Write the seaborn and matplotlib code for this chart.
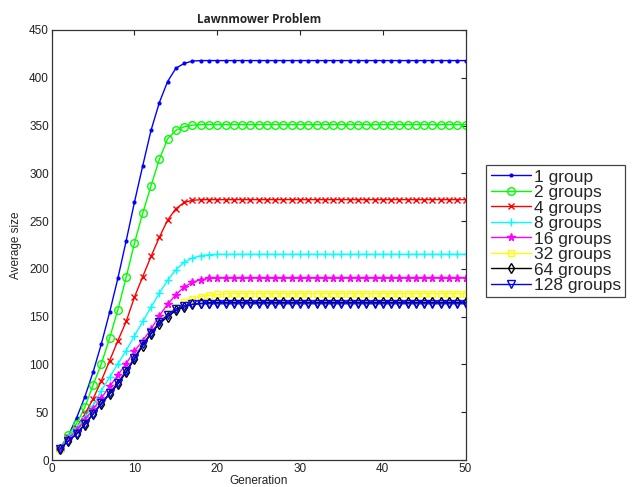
import matplotlib
matplotlib.use("Agg")
import matplotlib.pyplot as plt
import seaborn as sns
import pandas as pd

generations = list(range(1, 51))

labels = ["1 group", "2 groups", "4 groups", "8 groups",
          "16 groups", "32 groups", "64 groups", "128 groups"]

g1 = [12, 25.5, 44, 66, 92, 121.6, 154.7, 190.4, 229.5, 270,
      308, 345, 374, 396, 410, 415, 417.5, 418, 418, 418,
      418, 418, 418, 418, 418, 418, 418, 418, 418, 418,
      418, 418, 418, 418, 418, 418, 418, 418, 418, 418,
      418, 418, 418, 418, 418, 418, 418, 418, 418, 418]
g2 = [12, 26.5, 38, 55, 78.5, 100.6, 127.7, 157.5, 191.4, 227,
      258.5, 287, 314.6, 336, 345, 348.7, 350.5, 351, 351, 351,
      351, 351, 351, 351, 351, 351, 351, 351, 351, 351,
      351, 351, 351, 351, 351, 351, 351, 351, 351, 351,
      351, 351, 351, 351, 351, 351, 351, 351, 351, 351]
g4 = [12, 24, 34, 48, 64, 83, 104, 125, 145, 170.5,
      192, 213, 233, 251, 263, 269.5, 271.8, 272.4, 272.5, 272.5,
      272.5, 272.5, 272.5, 272.5, 272.5, 272.5, 272.5, 272.5, 272.5, 272.5,
      272.5, 272.5, 272.5, 272.5, 272.5, 272.5, 272.5, 272.5, 272.5, 272.5,
      272.5, 272.5, 272.5, 272.5, 272.5, 272.5, 272.5, 272.5, 272.5, 272.5]
g8 = [12, 24, 34, 44.7, 57, 72.6, 86.6, 100.6, 114.6, 130,
      145, 160, 174.5, 188, 199, 207, 211.5, 213.8, 214.8, 215.2,
      215.2, 215.2, 215.2, 215.2, 215.2, 215.2, 215.2, 215.2, 215.2, 215.2,
      215.2, 215.2, 215.2, 215.2, 215.2, 215.2, 215.2, 215.2, 215.2, 215.2,
      215.2, 215.2, 215.2, 215.2, 215.2, 215.2, 215.2, 215.2, 215.2, 215.2]
g16 = [12, 22, 31, 42, 53, 65, 77, 89, 101, 114,
       125, 137, 151, 163, 173, 181, 186, 188.8, 190, 190.4,
       190.5, 190.5, 190.5, 190.5, 190.5, 190.5, 190.5, 190.5, 190.5, 190.5,
       190.5, 190.5, 190.5, 190.5, 190.5, 190.5, 190.5, 190.5, 190.5, 190.5,
       190.5, 190.5, 190.5, 190.5, 190.5, 190.5, 190.5, 190.5, 190.5, 190.5]
g32 = [12, 20.5, 28, 38, 49, 60, 71, 82, 94, 108,
       122, 134, 145, 154, 160, 165, 168.5, 171, 172.5, 173.3,
       173.8, 174, 174, 174, 174, 174, 174, 174, 174, 174,
       174, 174, 174, 174, 174, 174, 174, 174, 174, 174,
       174, 174, 174, 174, 174, 174, 174, 174, 174, 174]
g64 = [11.5, 20, 27, 37, 48, 58.7, 69, 79.6, 91.8, 105.8,
       119.8, 132, 142.5, 150, 156.5, 160, 162.8, 164, 164.6, 165,
       165, 165, 165, 165, 165, 165, 165, 165, 165, 165,
       165, 165, 165, 165, 165, 165, 165, 165, 165, 165,
       165, 165, 165, 165, 165, 165, 165, 165, 165, 165]
g128 = [11.5, 20, 27.5, 37.5, 48.5, 59.5, 70, 81, 93, 107,
        121, 133, 144, 152, 158, 161.5, 163, 163.5, 163.5, 163.5,
        163.5, 163.5, 163.5, 163.5, 163.5, 163.5, 163.5, 163.5, 163.5, 163.5,
        163.5, 163.5, 163.5, 163.5, 163.5, 163.5, 163.5, 163.5, 163.5, 163.5,
        163.5, 163.5, 163.5, 163.5, 163.5, 163.5, 163.5, 163.5, 163.5, 163.5]

series = [g1, g2, g4, g8, g16, g32, g64, g128]
colors = ["#0000ff", "#00ff00", "#ff0000", "#00ffff",
          "#ff00ff", "#ffff00", "#000000", "#0000ff"]
markers = [".", "o", "x", "+", "*", "s", "d", "v"]
msizes = [4, 5.5, 4.5, 6, 5.5, 5, 5.5, 5.5]
filled = [True, False, True, True, True, False, False, False]

sns.set_theme(style="white")
plt.rcParams["font.family"] = ["Liberation Sans", "DejaVu Sans"]

fig = plt.figure(figsize=(6.36, 4.87), dpi=100)
ax = fig.add_axes([0.0813, 0.0554, 0.6507, 0.8830])

for vals, lab, c, m, ms, f in zip(series, labels, colors, markers, msizes, filled):
    df = pd.DataFrame({"Generation": generations, "Average size": vals})
    sns.lineplot(data=df, x="Generation", y="Average size", ax=ax,
                 color=c, marker=m, markersize=ms, linewidth=1.0,
                 mec=c, mew=1.0)
    line = ax.get_lines()[-1]
    line.set_markerfacecolor(c if f else "none")
    line.set_markeredgecolor(c)
    line.set_label(lab)

ax.set_xlim(0, 50)
ax.set_ylim(0, 450)
ax.set_xticks(range(0, 51, 10))
ax.set_yticks(range(0, 451, 50))
ax.tick_params(direction="in", top=True, right=True, length=3.5, width=0.8,
               labelsize=8.5, colors="#222222", pad=2)
for s in ax.spines.values():
    s.set_color("#333333")
    s.set_linewidth(0.9)

ax.set_xlabel("Generation", fontsize=8.5, labelpad=0, color="#222222")
ax.set_ylabel("Average size", fontsize=8.5, labelpad=5, color="#222222")
ax.set_title("Lawnmower Problem", fontsize=8.5, fontweight="bold",
             family=["Open Sans", "DejaVu Sans"], pad=5)

leg = ax.legend(handles=ax.get_lines(), labels=labels,
                loc="upper left", bbox_to_anchor=(1.05, 0.686),
                fontsize=12.5, frameon=True, fancybox=False,
                labelspacing=0.02, handlelength=2.3, handletextpad=0.2,
                borderpad=0.25, borderaxespad=0, framealpha=1)
leg.get_frame().set_edgecolor("#444444")
leg.get_frame().set_linewidth(0.9)

fig.savefig("out.png", dpi=100)
